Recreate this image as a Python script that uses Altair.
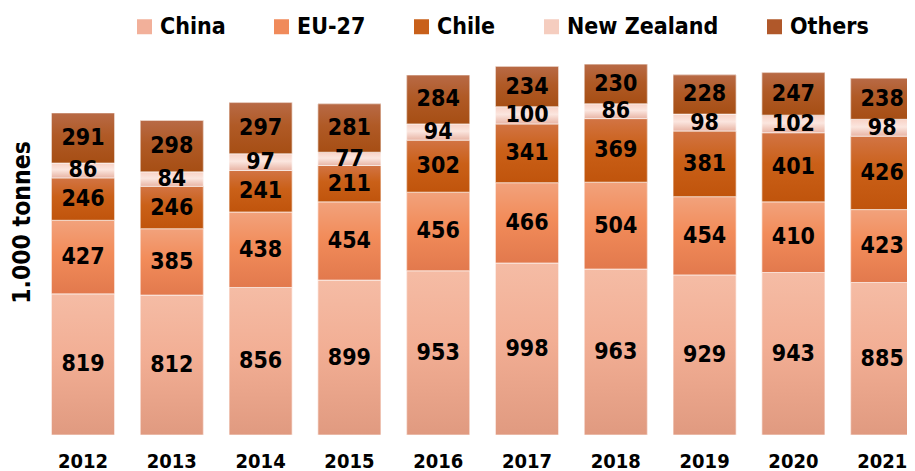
import altair as alt
import pandas as pd

years = ["2012", "2013", "2014", "2015", "2016", "2017", "2018", "2019", "2020", "2021"]
series = ["China", "EU-27", "Chile", "New Zealand", "Others"]
china = [819, 812, 856, 899, 953, 998, 963, 929, 943, 885]
eu27 = [427, 385, 438, 454, 456, 466, 504, 454, 410, 423]
chile = [246, 246, 241, 211, 302, 341, 369, 381, 401, 426]
new_zealand = [86, 84, 97, 77, 94, 100, 86, 98, 102, 98]
others = [291, 298, 297, 281, 284, 234, 230, 228, 247, 238]

legend_colors = ["#F2B09A", "#F08A5A", "#C8601A", "#F5CDBF", "#B0582A"]
gradients = {
    "China": ["#F5BCA5", "#F2AE94", "#E09A80"],
    "EU-27": ["#F2A27C", "#F28C5A", "#E2794D"],
    "Chile": ["#D27444", "#CA6018", "#C0540C"],
    "New Zealand": ["#F8D2C6", "#FBE6DF", "#E8B4A4"],
    "Others": ["#B86A46", "#B05A26", "#A64E14"],
}

FONT = "DejaVu Sans Condensed"

values = [china, eu27, chile, new_zealand, others]
rows = []
for si, (s, vals) in enumerate(zip(series, values)):
    for y, v in zip(years, vals):
        rows.append({"year": y, "series": s, "value": v, "order": si})
df = pd.DataFrame(rows)

x_enc = alt.X(
    "year:N",
    sort=years,
    scale=alt.Scale(range=[11.5, 873.7], paddingInner=0.2905, paddingOuter=0),
    axis=alt.Axis(
        title=None, labelAngle=0, ticks=False, domain=False, grid=False,
        labelFont=FONT, labelFontSize=20, labelFontWeight="bold", labelColor="#000000",
        labelPadding=16,
    ),
)
y_scale = alt.Scale(domain=[0, 2176], nice=False)
y_axis = alt.Axis(
    title="1.000 tonnes", labels=False, ticks=False, domain=False, grid=False,
    titleFont=FONT, titleFontSize=24.5, titleFontWeight="bold", titleColor="#000000",
    titleAngle=270, titleX=-6, titleY=162, titleAlign="center", titleBaseline="bottom",
)

base = alt.Chart().mark_bar().encode(
    x=x_enc,
    y=alt.Y("y1:Q", scale=y_scale, axis=y_axis),
    y2="y0:Q",
    color=alt.Color(
        "series:N",
        sort=series,
        scale=alt.Scale(domain=series, range=legend_colors),
        legend=alt.Legend(
            title=None, orient="none", direction="horizontal", columns=5,
            legendX=93, legendY=-45,
            symbolType="square", symbolSize=225, symbolStrokeWidth=0,
            labelFont=FONT, labelFontSize=23, labelFontWeight="bold", labelColor="#000000",
            labelOffset=4, columnPadding=44, labelLimit=300,
        ),
    ),
)

layers = [base]
for s in series:
    c = gradients[s]
    grad = alt.Gradient(
        gradient="linear",
        stops=[
            alt.GradientStop(color=c[0], offset=0),
            alt.GradientStop(color=c[1], offset=0.45),
            alt.GradientStop(color=c[2], offset=1),
        ],
        x1=0, x2=0, y1=0, y2=1,
    )
    layers.append(
        alt.Chart()
        .mark_bar(fill=grad, stroke="#FFFFFF", strokeWidth=1, strokeOpacity=0.6, clip=True)
        .encode(x=x_enc, y=alt.Y("y1:Q", scale=y_scale), y2="y0:Q")
        .transform_filter(alt.datum.series == s)
    )

labels = alt.Chart().mark_text(
    font=FONT, fontSize=23, fontWeight="bold", color="#000000", baseline="middle", clip=True
).encode(
    x=x_enc,
    y=alt.Y("mid:Q", scale=y_scale),
    text="value:Q",
).transform_calculate(mid="(datum.y0 + datum.y1) / 2")
layers.append(labels)

chart = (
    alt.layer(*layers, data=df)
    .transform_stack(stack="value", groupby=["year"], as_=["y0", "y1"], sort=[alt.SortField("order", order="ascending")])
    .properties(
        width=867, height=375,
        autosize=alt.AutoSizeParams(type="none"),
        padding={"left": 32, "top": 52, "right": 0, "bottom": 36},
        background="#FFFFFF",
    )
    .configure_view(strokeWidth=0, stroke="transparent")
)

chart.save("out.html", embed_options={"renderer": "svg", "actions": False})
